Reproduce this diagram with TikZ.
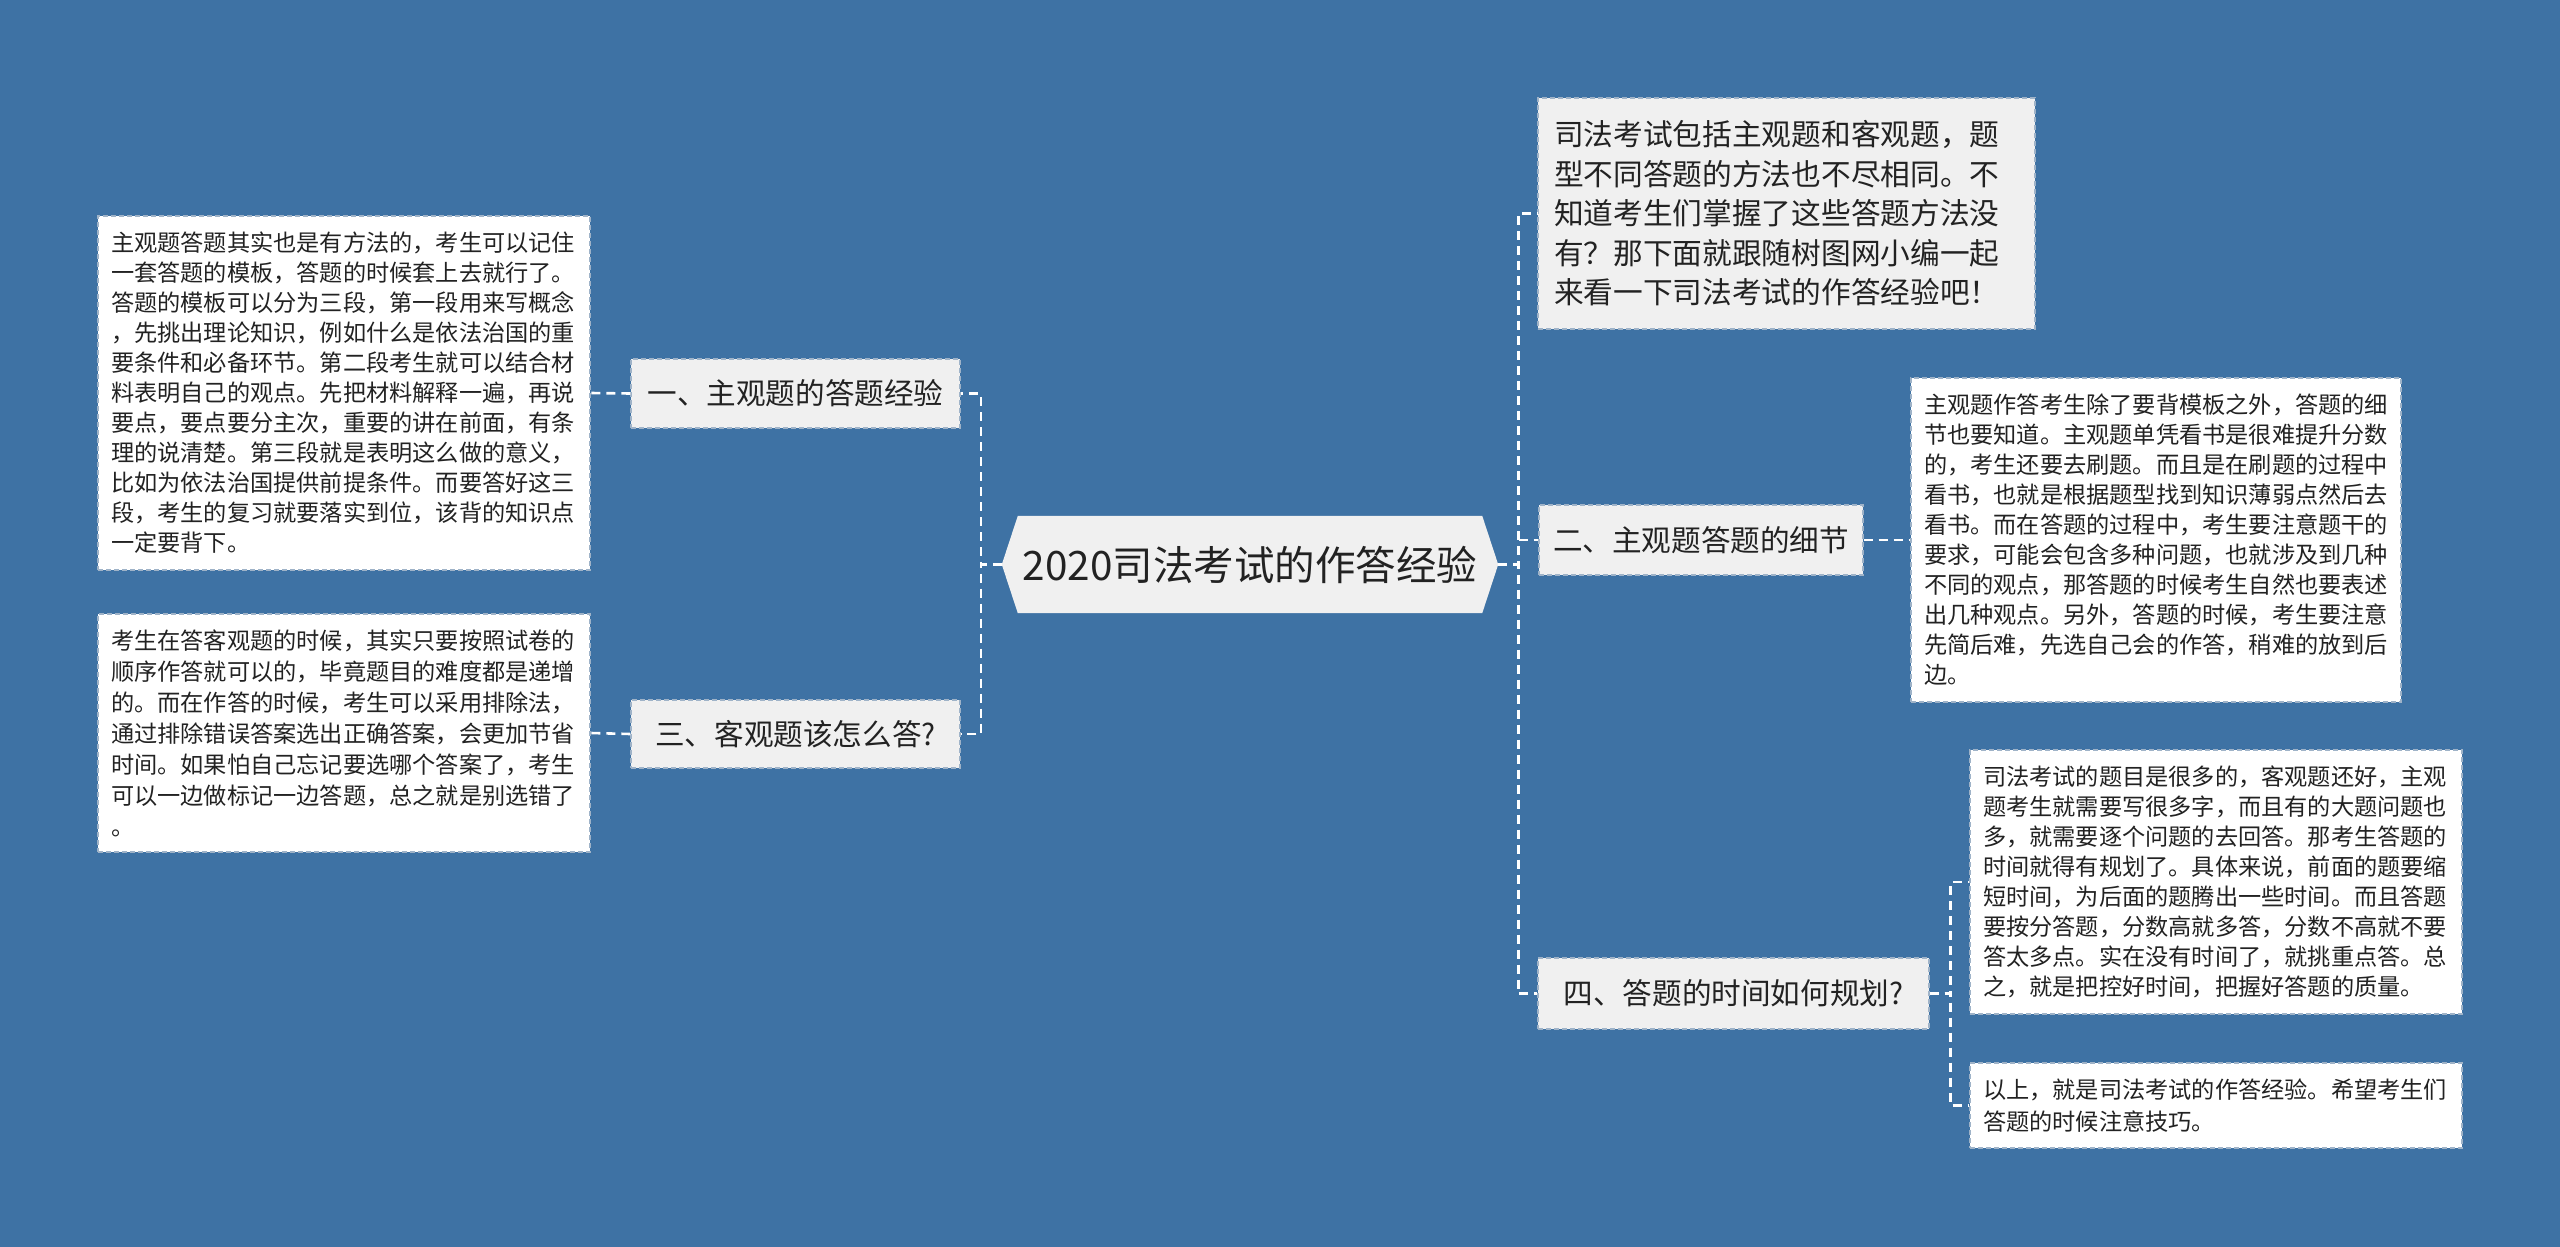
\documentclass[tikz,border=0pt]{standalone}
\usepackage{fontspec}
\newfontfamily\cjk{Noto Sans CJK SC}
\usetikzlibrary{backgrounds}
\definecolor{bg}{HTML}{3E72A4}
\definecolor{lightfill}{HTML}{F0F0F0}
\definecolor{boxline}{HTML}{9FB3C8}
\definecolor{txt}{HTML}{222222}
\tikzset{
  conn/.style={draw=white, line width=2.6pt, dash pattern=on 9pt off 6pt},
  branchbox/.style={fill=lightfill, draw=boxline, line width=1.2pt, dash pattern=on 5pt off 3pt,
    text=txt, font={\cjk\fontsize{29.6}{36}\selectfont}, inner sep=0pt},
  leafbox/.style={fill=white, draw=boxline, line width=1.2pt, dash pattern=on 5pt off 3pt,
    text=txt, align=left, inner xsep=13pt, inner ysep=0pt, font={\cjk\fontsize{23.2}{30}\selectfont}},
  introbox/.style={fill=lightfill, draw=boxline, line width=1.2pt, dash pattern=on 5pt off 3pt,
    text=txt, align=left, inner xsep=16pt, inner ysep=0pt, font={\cjk\fontsize{29.7}{39.5}\selectfont}},
  rootbox/.style={text=txt, inner sep=0pt, font={\cjk\fontsize{40.5}{48}\selectfont}}
}
\begin{document}
\begin{tikzpicture}[x=1pt,y=-1pt]
\useasboundingbox (0,0) rectangle (2560,1247);

% root
\node[rootbox, minimum width=496pt, minimum height=97pt] (root) at (1250,564.5) {2020司法考试的作答经验};
\begin{pgfonlayer}{background}
\fill[bg] (0,0) rectangle (2560,1247);
\fill[lightfill] ([xshift=16pt]root.north west) -- ([xshift=-16pt]root.north east) -- (root.east)
  -- ([xshift=-16pt]root.south east) -- ([xshift=16pt]root.south west) -- (root.west) -- cycle;
\end{pgfonlayer}

% branches
\node[branchbox, minimum width=329pt, minimum height=69pt] (b1) at (795.5,393.5) {一、主观题的答题经验};
\node[branchbox, minimum width=329pt, minimum height=68pt] (b3) at (795.5,734) {三、客观题该怎么答?};
\node[branchbox, minimum width=324pt, minimum height=70pt] (b2) at (1701,540) {二、主观题答题的细节};
\node[branchbox, minimum width=391pt, minimum height=71pt] (b4) at (1733.5,993.5) {四、答题的时间如何规划?};

% intro
\node[introbox, minimum width=497pt, minimum height=231pt, text width=465pt] (intro) at (1786.5,213.5) {司法考试包括主观题和客观题，题\\型不同答题的方法也不尽相同。不\\知道考生们掌握了这些答题方法没\\有？那下面就跟随树图网小编一起\\来看一下司法考试的作答经验吧！};

% leaves
\node[leafbox, minimum width=492pt, minimum height=354pt, text width=466pt] (L1) at (344,393) {主观题答题其实也是有方法的，考生可以记住\\一套答题的模板，答题的时候套上去就行了。\\答题的模板可以分为三段，第一段用来写概念\\，先挑出理论知识，例如什么是依法治国的重\\要条件和必备环节。第二段考生就可以结合材\\料表明自己的观点。先把材料解释一遍，再说\\要点，要点要分主次，重要的讲在前面，有条\\理的说清楚。第三段就是表明这么做的意义，\\比如为依法治国提供前提条件。而要答好这三\\段，考生的复习就要落实到位，该背的知识点\\一定要背下。};

\node[leafbox, minimum width=492pt, minimum height=238pt, text width=466pt, font={\cjk\fontsize{23.2}{31}\selectfont}] (L3) at (344,733) {考生在答客观题的时候，其实只要按照试卷的\\顺序作答就可以的，毕竟题目的难度都是递增\\的。而在作答的时候，考生可以采用排除法，\\通过排除错误答案选出正确答案，会更加节省\\时间。如果怕自己忘记要选哪个答案了，考生\\可以一边做标记一边答题，总之就是别选错了\\。};

\node[leafbox, minimum width=490pt, minimum height=324pt, text width=464pt] (R2) at (2156,540) {主观题作答考生除了要背模板之外，答题的细\\节也要知道。主观题单凭看书是很难提升分数\\的，考生还要去刷题。而且是在刷题的过程中\\看书，也就是根据题型找到知识薄弱点然后去\\看书。而在答题的过程中，考生要注意题干的\\要求，可能会包含多种问题，也就涉及到几种\\不同的观点，那答题的时候考生自然也要表述\\出几种观点。另外，答题的时候，考生要注意\\先简后难，先选自己会的作答，稍难的放到后\\边。};

\node[leafbox, minimum width=492pt, minimum height=264pt, text width=466pt] (R4a) at (2216,882) {司法考试的题目是很多的，客观题还好，主观\\题考生就需要写很多字，而且有的大题问题也\\多，就需要逐个问题的去回答。那考生答题的\\时间就得有规划了。具体来说，前面的题要缩\\短时间，为后面的题腾出一些时间。而且答题\\要按分答题，分数高就多答，分数不高就不要\\答太多点。实在没有时间了，就挑重点答。总\\之，就是把控好时间，把握好答题的质量。};

\node[leafbox, minimum width=492pt, minimum height=85pt, text width=466pt, font={\cjk\fontsize{23.2}{31.5}\selectfont}] (R4b) at (2216,1105.5) {以上，就是司法考试的作答经验。希望考生们\\答题的时候注意技巧。};

% connectors
\draw[conn] (root.west) -- ++(-21,0) |- (b1.east);
\draw[conn] (root.west) -- ++(-21,0) |- (b3.east);
\draw[conn] (root.east) -- ++(20,0) |- (intro.west);
\draw[conn] (root.east) -- ++(20,0) |- (b2.west);
\draw[conn] (root.east) -- ++(20,0) |- (b4.west);
\draw[conn] (b1.west) -- (L1.east);
\draw[conn] (b3.west) -- (L3.east);
\draw[conn] (b2.east) -- (R2.west);
\draw[conn] (b4.east) -- ++(21,0) |- (R4a.west);
\draw[conn] (b4.east) -- ++(21,0) |- (R4b.west);
\end{tikzpicture}
\end{document}
